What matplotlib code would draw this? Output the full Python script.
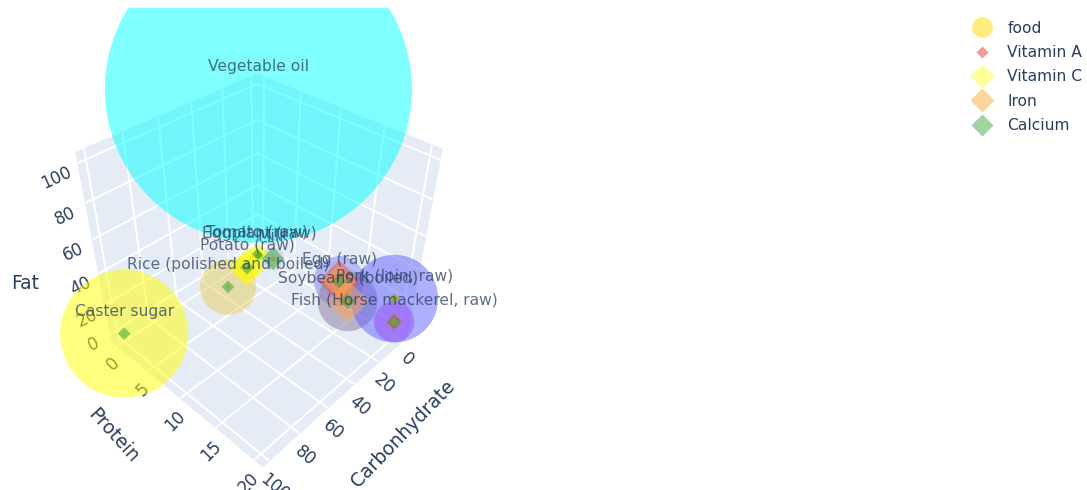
"""
Nutrition of common foods as a 3D bubble chart
"""

import matplotlib
matplotlib.use("Agg")
import matplotlib.pyplot as plt
from matplotlib.lines import Line2D
from mpl_toolkits.mplot3d import proj3d

foods = ["Vegetable oil", "Caster sugar", "Rice (polished and boiled)", "Potato (raw)",
         "Tomato (raw)", "Eggplant (raw)", "Milk", "Egg (raw)", "Soybeans (boiled)",
         "Pork (loin, raw)", "Fish (Horse mackerel, raw)"]
protein = [0, 0, 2.5, 1.6, 0.7, 1.1, 3.3, 12.3, 14.8, 19.3, 19.7]
fat = [100, 0, 0.3, 0.1, 0.1, 0.1, 3.8, 10.3, 9.0, 19.2, 4.5]
carbs = [0, 99, 37, 17.6, 4.7, 5.1, 4.8, 0.3, 8.4, 0.2, 0.1]
energy = [921, 384, 168, 76, 19, 22, 67, 151, 180, 263, 121]
food_colors = ["#00ffff", "#ffff00", "#e6cf5c", "#ffee00", "#ffee00", "#ffee00", "#c8c8d8",
               "#8080f0", "#8a7a9a", "#6060ff", "#d23ceb"]
food_alpha = [0.52, 0.6, 0.5, 0.5, 0.5, 0.5, 0.5, 0.5, 0.5, 0.5, 0.5]

# marker widths in pixels
vitamin_a = [0, 0, 0, 0, 6, 4, 4, 30, 7, 7, 12]
vitamin_c = [0, 0, 0, 26, 16, 8, 2, 0, 2, 6, 0]
iron = [0, 0, 4, 6, 3, 3, 0, 24, 30, 8, 6]
calcium = [0, 9, 9, 10, 8, 6, 16, 10, 11, 7, 10]

fat_ticks = [0, 20, 40, 60, 80, 100]
protein_ticks = [0, 5, 10, 15, 20]
carb_ticks = [0, 20, 40, 60, 80, 100]

DPI = 100
TEXT = "#2a3f5f"


def px_area(widths, factor=0.72):
    # scatter wants points squared
    return [(w * factor) ** 2 for w in widths]


fig = plt.figure(figsize=(10.87, 4.9), dpi=DPI)
plt.rcParams["font.family"] = ["DejaVu Sans"]
ax = fig.add_axes([-0.0675, -0.053, 0.6, 1.037], projection="3d")
ax.set_proj_type("persp", focal_length=0.25)
ax.view_init(elev=38.5, azim=44)
ax.set_box_aspect((1, 1, 1.03), zoom=0.772)
ax.computed_zorder = False
ax.patch.set_alpha(0)

ax.set_xlim(-4, 104, view_margin=0)
ax.set_ylim(-1, 21, view_margin=0)
ax.set_zlim(-5, 105, view_margin=0)

for axis in (ax.xaxis, ax.yaxis, ax.zaxis):
    axis.set_pane_color("#e5ecf6")
    axis.pane.set_edgecolor("#e5ecf6")
    axis.line.set_color((1, 1, 1, 0))
    axis._axinfo["grid"].update(color="white", linewidth=1.4)
    axis._axinfo["tick"].update(inward_factor=0, outward_factor=0)

ax.set_xticks(carb_ticks)
ax.set_yticks(protein_ticks)
ax.set_zticks(fat_ticks)
ax.tick_params(axis="x", labelrotation=-40, labelsize=12, labelcolor=TEXT, pad=-2)
ax.tick_params(axis="y", labelrotation=45, labelsize=12, labelcolor=TEXT, pad=-2)
ax.tick_params(axis="z", labelrotation=25, labelsize=12, labelcolor=TEXT, pad=3)

# axis titles placed by hand, mplot3d would pin them to the middle of each edge
ax.text2D(403 / 1087, 1 - 434 / 490, "Carbonhydrate", transform=fig.transFigure, rotation=46,
          rotation_mode="anchor", ha="center", va="center", fontsize=13.5, color=TEXT)
ax.text2D(113 / 1087, 1 - 436 / 490, "Protein", transform=fig.transFigure, rotation=-48,
          rotation_mode="anchor", ha="center", va="center", fontsize=13.5, color=TEXT)
ax.text2D(25 / 1087, 1 - 283 / 490, "Fat", transform=fig.transFigure,
          ha="center", va="center", fontsize=13.5, color=TEXT)

ax.scatter(carbs, protein, fat, s=px_area([e / 3 for e in energy]), c=food_colors,
           alpha=food_alpha, linewidths=0, depthshade=False, zorder=5)
ax.scatter(carbs, protein, fat, s=px_area(vitamin_a), c="#ef553b", marker="D", alpha=0.5,
           linewidths=0, depthshade=False, zorder=6)
ax.scatter(carbs, protein, fat, s=px_area(vitamin_c), c="#ffff00", marker="D", alpha=0.6,
           linewidths=0, depthshade=False, zorder=7)
ax.scatter(carbs, protein, fat, s=px_area(iron), c="#ffa64d", marker="D", alpha=0.5,
           linewidths=0, depthshade=False, zorder=8)
ax.scatter(carbs, protein, fat, s=px_area(calcium), c="#2ca02c", marker="D", alpha=0.5,
           linewidths=0, depthshade=False, zorder=9)

# labels sit a fixed distance above each point
for name, c, p, f in zip(foods, carbs, protein, fat):
    px, py, _ = proj3d.proj_transform(c, p, f, ax.get_proj())
    ax.annotate(name, (px, py), xytext=(0, 16), textcoords="offset points", ha="center",
                va="center", fontsize=11.2, color=TEXT, alpha=0.75, zorder=20,
                annotation_clip=False)

handles = [
    Line2D([], [], ls="", marker="o", ms=15, mfc="#ffec80", mec="none"),
    Line2D([], [], ls="", marker="D", ms=6, mfc="#f79a9a", mec="none"),
    Line2D([], [], ls="", marker="D", ms=12, mfc="#ffff99", mec="none"),
    Line2D([], [], ls="", marker="D", ms=12, mfc="#fdd59a", mec="none"),
    Line2D([], [], ls="", marker="D", ms=11, mfc="#a3d3a0", mec="none"),
]
labels = ["food", "Vitamin A", "Vitamin C", "Iron", "Calcium"]
fig.legend(handles, labels, loc="upper left", bbox_to_anchor=(0.8795, 0.98), frameon=False,
           fontsize=11.2, labelcolor=TEXT, labelspacing=0.6, handletextpad=0.6,
           borderpad=0.2)

fig.savefig("out.png", dpi=DPI)
plt.close(fig)
